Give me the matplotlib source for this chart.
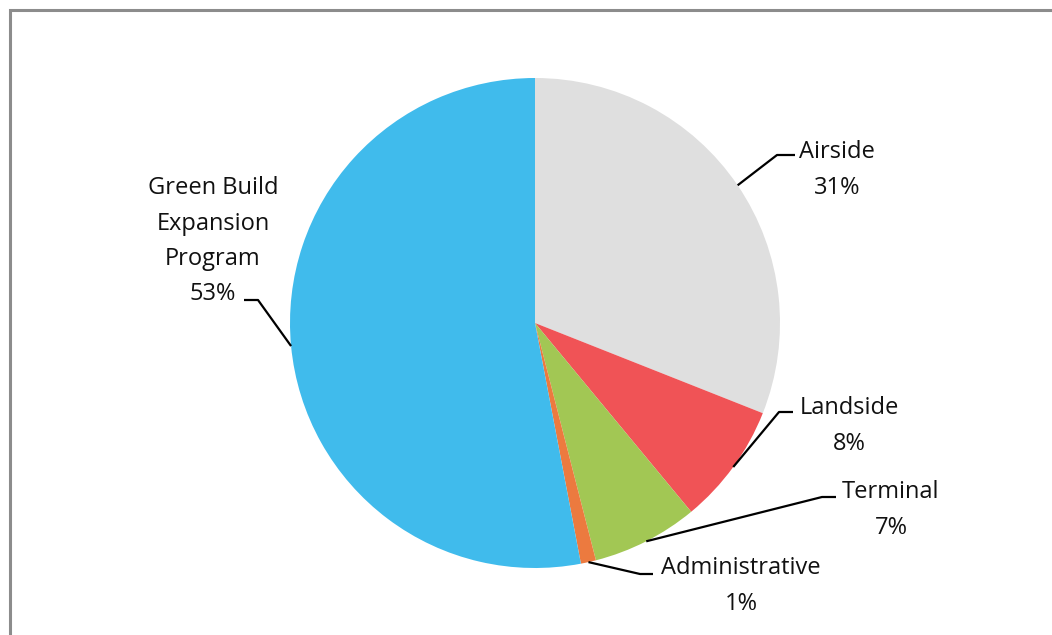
import numpy as np
import matplotlib.pyplot as plt
from matplotlib.patches import Rectangle

# --- Budget split by program ---
categories = ["Airside", "Landside", "Terminal", "Administrative",
              "Green Build\nExpansion\nProgram"]
shares = [31, 8, 7, 1, 53]
colors = ["#DFDFDF", "#F05356", "#A2C754", "#EC7A3F", "#40BBEC"]

# label layout in pixel space: elbow of leader, end of leader, text centre, first-line y
elbows = [(777, 155), (779, 412), (822, 497), (640, 574), (258, 300)]
line_ends = [(795, 155), (793, 412), (836, 497), (653, 574), (244, 300)]
text_pos = [(837, 152), (849, 408), (891, 492), (741, 568), (213, 188)]

W, H = 1052, 635
CX, CY, R = 535, 323, 245

plt.rcParams['font.family'] = ['Open Sans', 'DejaVu Sans']

fig = plt.figure(figsize=(W / 100, H / 100), dpi=100)
ax = fig.add_axes([0, 0, 1, 1])

# chart frame (extends past the right/bottom edge)
ax.add_patch(Rectangle((9.5, -20), W + 40, H - 9.5 + 20, fill=False,
                       edgecolor="#8C8C8C", linewidth=2.2))

wedges, _ = ax.pie(shares, colors=colors, startangle=90, counterclock=False,
                   center=(CX, H - CY), radius=R, frame=True,
                   wedgeprops=dict(linewidth=0))
ax.set_xlim(0, W)
ax.set_ylim(0, H)
ax.set_aspect('equal')
ax.axis('off')

for w, name, val, elb, end, tp in zip(wedges, categories, shares,
                                      elbows, line_ends, text_pos):
    mid = np.deg2rad((w.theta1 + w.theta2) / 2)
    sx = CX + R * np.cos(mid)
    sy = (H - CY) + R * np.sin(mid)
    xs = [sx, elb[0], end[0]]
    ys = [sy, H - elb[1], H - end[1]]
    ax.plot(xs, ys, color="black", linewidth=1.6, solid_capstyle='butt')
    lines = name.split("\n") + [f"{val}%"]
    for i, ln in enumerate(lines):
        ax.text(tp[0], H - (tp[1] + i * 35.5), ln, ha='center', va='center',
                fontsize=17, color="#111111")

fig.savefig("out.png", dpi=100)
